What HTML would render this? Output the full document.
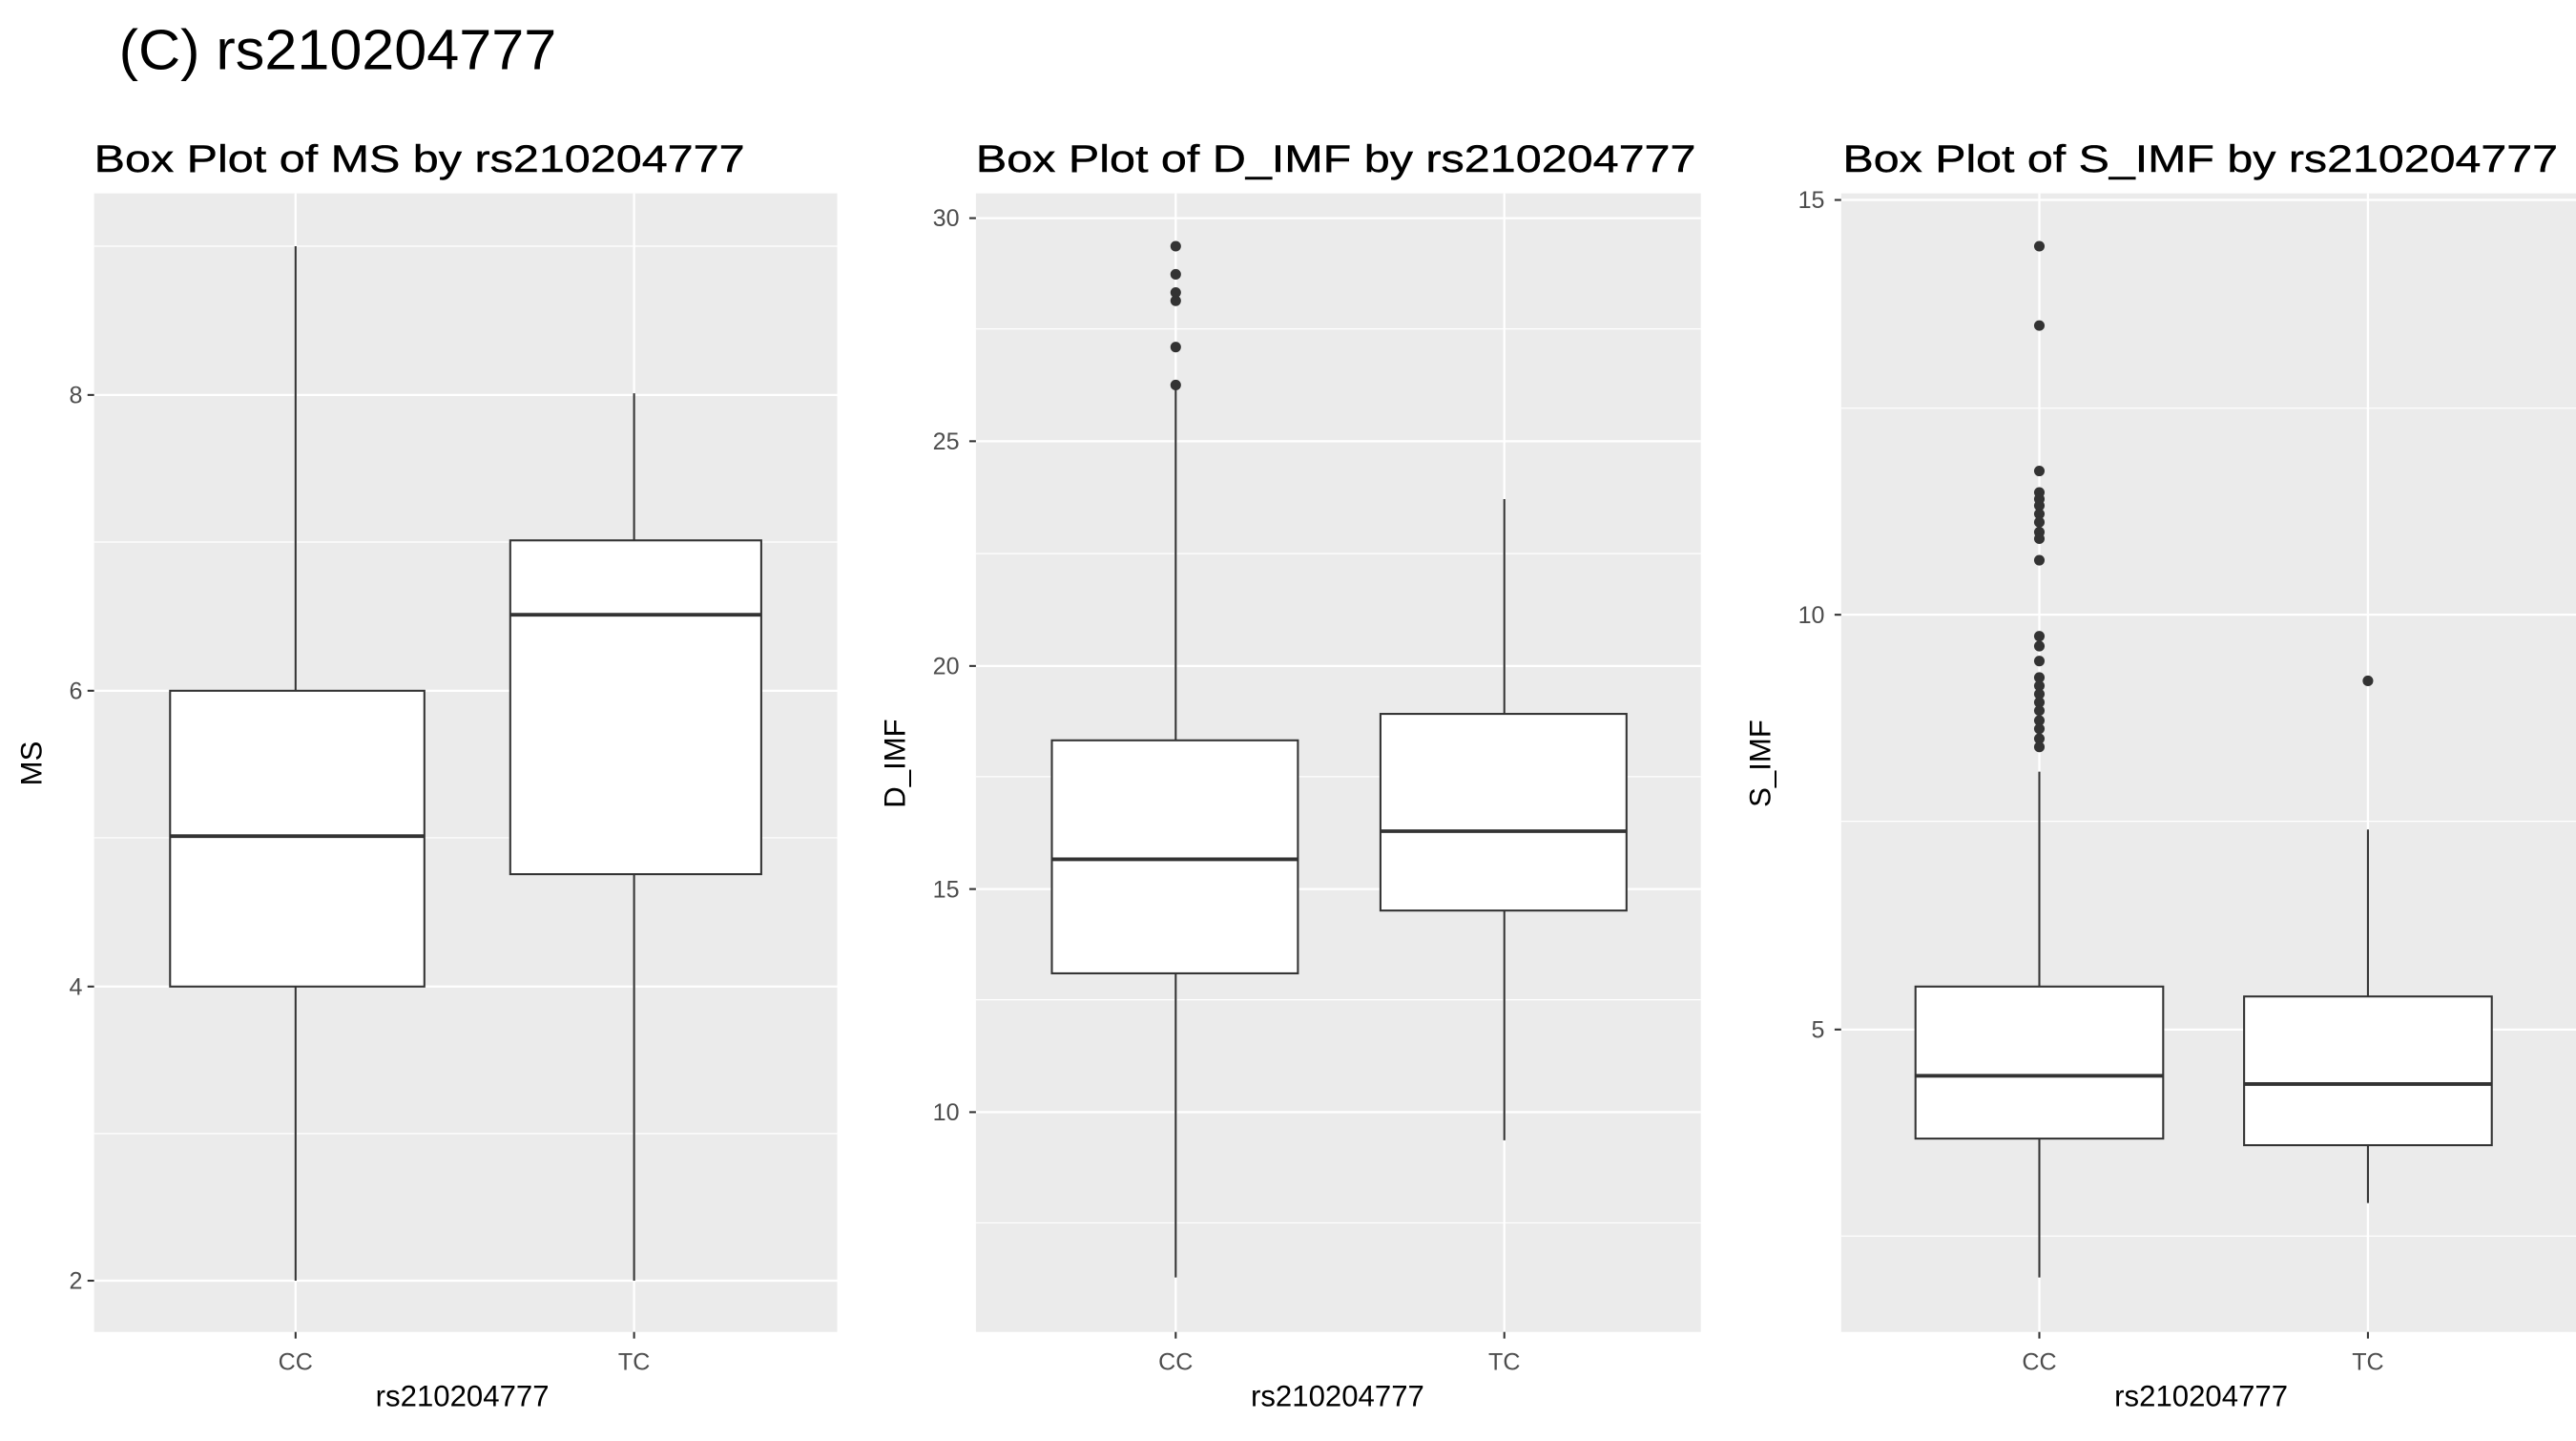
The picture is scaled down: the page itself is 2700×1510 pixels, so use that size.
<!DOCTYPE html>
<html><head><style>
html,body{margin:0;padding:0;background:#fff;}
svg{display:block;}
text{font-family:"Liberation Sans",Arial,sans-serif;}
.t{fill:#4d4d4d;font-size:14.5px;}
.ti{font-size:23px;fill:#000;stroke:#000;stroke-width:0.25;}
.ax{font-size:18px;fill:#000;}
.g{stroke:#fff;stroke-width:1.3;}
.gm{stroke:#fff;stroke-width:0.7;}
.tk{stroke:#333;stroke-width:1.2;}
.w{stroke:#333;stroke-width:1.2;}
.b{fill:#fff;stroke:#333;stroke-width:1.2;}
.m{stroke:#333;stroke-width:2.2;}
.p{fill:#333;}
</style></head><body>
<svg width="2700" height="1510" viewBox="0 0 1560 872" preserveAspectRatio="none" xmlns="http://www.w3.org/2000/svg">
<rect width="1560" height="872" fill="#fff"/>
<text x="72" y="42" style="font-size:34px;fill:#000" textLength="265" lengthAdjust="spacingAndGlyphs">(C) rs210204777</text>

<!-- Panel 1 -->
<text x="57" y="104" class="ti" textLength="394" lengthAdjust="spacingAndGlyphs">Box Plot of MS by rs210204777</text>
<rect x="57" y="117" width="450" height="689" fill="#ebebeb"/>
<g class="gm"><line x1="57" x2="507" y1="149" y2="149"/><line x1="57" x2="507" y1="328" y2="328"/><line x1="57" x2="507" y1="507" y2="507"/><line x1="57" x2="507" y1="686" y2="686"/></g>
<g class="g"><line x1="57" x2="507" y1="239" y2="239"/><line x1="57" x2="507" y1="418" y2="418"/><line x1="57" x2="507" y1="597" y2="597"/><line x1="57" x2="507" y1="775" y2="775"/><line x1="179" x2="179" y1="117" y2="806"/><line x1="384" x2="384" y1="117" y2="806"/></g>
<g class="tk"><line x1="53" x2="57" y1="239" y2="239"/><line x1="53" x2="57" y1="418" y2="418"/><line x1="53" x2="57" y1="597" y2="597"/><line x1="53" x2="57" y1="775" y2="775"/><line x1="179" x2="179" y1="806" y2="810"/><line x1="384" x2="384" y1="806" y2="810"/></g>
<g class="t" text-anchor="end"><text x="50" y="244">8</text><text x="50" y="423">6</text><text x="50" y="602">4</text><text x="50" y="780">2</text></g>
<g class="t" text-anchor="middle"><text x="179" y="829">CC</text><text x="384" y="829">TC</text></g>
<text x="280" y="851" class="ax" text-anchor="middle">rs210204777</text>
<text transform="translate(25,462) rotate(-90)" class="ax" text-anchor="middle">MS</text>
<line class="w" x1="179" x2="179" y1="149" y2="775"/>
<rect class="b" x="103" y="418" width="154" height="179"/>
<line class="m" x1="103" x2="257" y1="506" y2="506"/>
<line class="w" x1="384" x2="384" y1="238" y2="775"/>
<rect class="b" x="309" y="327" width="152" height="202"/>
<line class="m" x1="309" x2="461" y1="372" y2="372"/>

<!-- Panel 2 -->
<text x="591" y="104" class="ti" textLength="436" lengthAdjust="spacingAndGlyphs">Box Plot of D_IMF by rs210204777</text>
<rect x="591" y="117" width="439" height="689" fill="#ebebeb"/>
<g class="gm"><line x1="591" x2="1030" y1="199" y2="199"/><line x1="591" x2="1030" y1="335" y2="335"/><line x1="591" x2="1030" y1="470" y2="470"/><line x1="591" x2="1030" y1="605" y2="605"/><line x1="591" x2="1030" y1="740" y2="740"/></g>
<g class="g"><line x1="591" x2="1030" y1="132" y2="132"/><line x1="591" x2="1030" y1="267" y2="267"/><line x1="591" x2="1030" y1="403" y2="403"/><line x1="591" x2="1030" y1="538" y2="538"/><line x1="591" x2="1030" y1="673" y2="673"/><line x1="712" x2="712" y1="117" y2="806"/><line x1="911" x2="911" y1="117" y2="806"/></g>
<g class="tk"><line x1="587" x2="591" y1="132" y2="132"/><line x1="587" x2="591" y1="267" y2="267"/><line x1="587" x2="591" y1="403" y2="403"/><line x1="587" x2="591" y1="538" y2="538"/><line x1="587" x2="591" y1="673" y2="673"/><line x1="712" x2="712" y1="806" y2="810"/><line x1="911" x2="911" y1="806" y2="810"/></g>
<g class="t" text-anchor="end"><text x="581" y="137">30</text><text x="581" y="272">25</text><text x="581" y="408">20</text><text x="581" y="543">15</text><text x="581" y="678">10</text></g>
<g class="t" text-anchor="middle"><text x="712" y="829">CC</text><text x="911" y="829">TC</text></g>
<text x="810" y="851" class="ax" text-anchor="middle">rs210204777</text>
<text transform="translate(548,462) rotate(-90)" class="ax" text-anchor="middle">D_IMF</text>
<line class="w" x1="712" x2="712" y1="234" y2="773"/>
<rect class="b" x="637" y="448" width="149" height="141"/>
<line class="m" x1="637" x2="786" y1="520" y2="520"/>
<g class="p"><circle cx="712" cy="149" r="3.2"/><circle cx="712" cy="166" r="3.2"/><circle cx="712" cy="177" r="3.2"/><circle cx="712" cy="182" r="3.2"/><circle cx="712" cy="210" r="3.2"/><circle cx="712" cy="233" r="3.2"/></g>
<line class="w" x1="911" x2="911" y1="302" y2="690"/>
<rect class="b" x="836" y="432" width="149" height="119"/>
<line class="m" x1="836" x2="985" y1="503" y2="503"/>

<!-- Panel 3 -->
<text x="1116" y="104" class="ti" textLength="433" lengthAdjust="spacingAndGlyphs">Box Plot of S_IMF by rs210204777</text>
<rect x="1115" y="117" width="445" height="689" fill="#ebebeb"/>
<g class="gm"><line x1="1115" x2="1560" y1="247" y2="247"/><line x1="1115" x2="1560" y1="497" y2="497"/><line x1="1115" x2="1560" y1="748" y2="748"/></g>
<g class="g"><line x1="1115" x2="1560" y1="121" y2="121"/><line x1="1115" x2="1560" y1="372" y2="372"/><line x1="1115" x2="1560" y1="623" y2="623"/><line x1="1235" x2="1235" y1="117" y2="806"/><line x1="1434" x2="1434" y1="117" y2="806"/></g>
<g class="tk"><line x1="1111" x2="1115" y1="121" y2="121"/><line x1="1111" x2="1115" y1="372" y2="372"/><line x1="1111" x2="1115" y1="623" y2="623"/><line x1="1235" x2="1235" y1="806" y2="810"/><line x1="1434" x2="1434" y1="806" y2="810"/></g>
<g class="t" text-anchor="end"><text x="1105" y="126">15</text><text x="1105" y="377">10</text><text x="1105" y="628">5</text></g>
<g class="t" text-anchor="middle"><text x="1235" y="829">CC</text><text x="1434" y="829">TC</text></g>
<text x="1333" y="851" class="ax" text-anchor="middle">rs210204777</text>
<text transform="translate(1072,462) rotate(-90)" class="ax" text-anchor="middle">S_IMF</text>
<line class="w" x1="1235" x2="1235" y1="467" y2="773"/>
<rect class="b" x="1160" y="597" width="150" height="92"/>
<line class="m" x1="1160" x2="1310" y1="651" y2="651"/>
<g class="p">
<circle cx="1235" cy="149" r="3.2"/><circle cx="1235" cy="197" r="3.2"/><circle cx="1235" cy="285" r="3.2"/>
<circle cx="1235" cy="298" r="3.2"/><circle cx="1235" cy="302" r="3.2"/><circle cx="1235" cy="306" r="3.2"/><circle cx="1235" cy="311" r="3.2"/><circle cx="1235" cy="316" r="3.2"/><circle cx="1235" cy="322" r="3.2"/><circle cx="1235" cy="326" r="3.2"/><circle cx="1235" cy="339" r="3.2"/>
<circle cx="1235" cy="385" r="3.2"/><circle cx="1235" cy="391" r="3.2"/><circle cx="1235" cy="400" r="3.2"/><circle cx="1235" cy="410" r="3.2"/><circle cx="1235" cy="415" r="3.2"/><circle cx="1235" cy="420" r="3.2"/><circle cx="1235" cy="425" r="3.2"/><circle cx="1235" cy="430" r="3.2"/><circle cx="1235" cy="436" r="3.2"/><circle cx="1235" cy="441" r="3.2"/><circle cx="1235" cy="447" r="3.2"/><circle cx="1235" cy="452" r="3.2"/>
<circle cx="1434" cy="412" r="3.2"/></g>
<line class="w" x1="1434" x2="1434" y1="502" y2="728"/>
<rect class="b" x="1359" y="603" width="150" height="90"/>
<line class="m" x1="1359" x2="1509" y1="656" y2="656"/>
</svg>
</body></html>
